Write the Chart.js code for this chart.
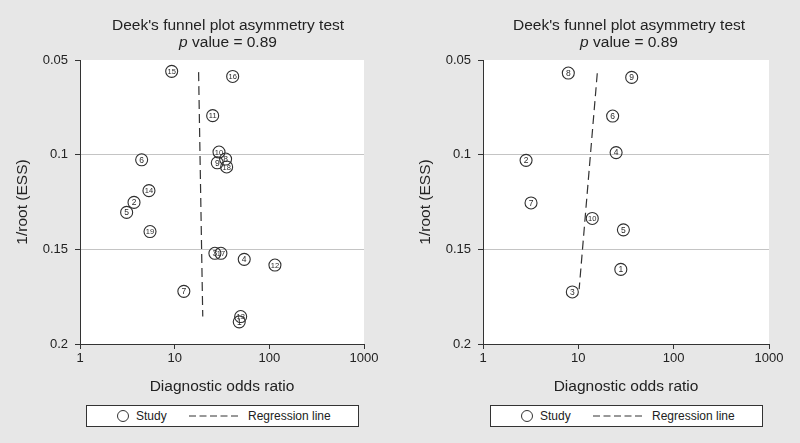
<!DOCTYPE html>
<html>
<head>
<meta charset="utf-8">
<script src="https://cdn.jsdelivr.net/npm/chart.js@4.4.0/dist/chart.umd.min.js"></script>
<style>
  html, body { margin: 0; padding: 0; background: #e7e7e7; }
  body { width: 800px; height: 443px; position: relative; overflow: hidden; font-family: "Liberation Sans", Arial, sans-serif; color: #222; }
  .panel { position: absolute; top: 0; width: 400px; height: 443px; }
  .panel canvas { position: absolute; left: 0; top: 0; }
  .title { position: absolute; top: 17px; transform: translateX(-50%); white-space: nowrap; text-align: center; font-size: 15.5px; line-height: 16.5px; }
  .legend { position: absolute; top: 405px; width: 271px; height: 20px; background: #fff; border: 1px solid #333; font-size: 12px; }
  .legend .circ { position: absolute; left: 30px; top: 4px; width: 10px; height: 10px; border: 1px solid #333; border-radius: 50%; box-sizing: content-box; }
  .legend .t1 { position: absolute; left: 49px; top: 3px; }
  .legend svg { position: absolute; left: 102px; top: 9px; }
  .legend .t2 { position: absolute; left: 161px; top: 3px; }
</style>
</head>
<body>
<div class="panel" style="left:0">
  <canvas id="c1" width="400" height="443"></canvas>
  <div class="title" style="left:228px">Deek's funnel plot asymmetry test<br><i>p</i> value = 0.89</div>
  <div class="legend" style="left:86px"><span class="circ"></span><span class="t1">Study</span><svg width="50" height="2"><line x1="0" y1="1" x2="50" y2="1" stroke="#333" stroke-width="1" stroke-dasharray="7,3.5"/></svg><span class="t2">Regression line</span></div>
</div>
<div class="panel" style="left:400px">
  <canvas id="c2" width="400" height="443"></canvas>
  <div class="title" style="left:229px">Deek's funnel plot asymmetry test<br><i>p</i> value = 0.89</div>
  <div class="legend" style="left:90px"><span class="circ"></span><span class="t1">Study</span><svg width="50" height="2"><line x1="0" y1="1" x2="50" y2="1" stroke="#333" stroke-width="1" stroke-dasharray="7,3.5"/></svg><span class="t2">Regression line</span></div>
</div>
<script>
// ---- Data ----
const xTicks = [1, 10, 100, 1000];
const yTicks = [0.05, 0.1, 0.15, 0.2];
const gridValues = [0.1, 0.15];

// Left panel
const studyLabelsA = ['15','16','11','10','8','9','18','6','14','2','5','19','3','17','4','12','7','13','1'];
const dorA = [9.3, 41, 25.2, 29.4, 34.5, 28.2, 35.4, 4.48, 5.35, 3.72, 3.11, 5.49, 26.6, 30.8, 54.3, 114.6, 12.5, 49.8, 48.1];
const essA = [0.056, 0.0587, 0.0794, 0.0986, 0.1023, 0.1043, 0.1065, 0.1027, 0.119, 0.1252, 0.1305, 0.1406, 0.1521, 0.1521, 0.1553, 0.1583, 0.1722, 0.1855, 0.1883];
const regXA = [17.9, 19.8];
const regYA = [0.0564, 0.1855];

// Right panel
const studyLabelsB = ['8','9','6','4','2','7','10','5','1','3'];
const dorB = [7.85, 36.3, 22.9, 24.9, 2.83, 3.19, 14.0, 29.7, 27.9, 8.65];
const essB = [0.0569, 0.0592, 0.0796, 0.0989, 0.1030, 0.1255, 0.1337, 0.1397, 0.1606, 0.1725];
const regXB = [15.8, 10.2];
const regYB = [0.057, 0.171];

// ---- Chart construction ----
const FONT = '"Liberation Sans", Arial, sans-serif';

const plotBg = {
  id: 'plotBg',
  beforeDraw(chart) {
    const a = chart.chartArea, ctx = chart.ctx;
    ctx.save();
    ctx.fillStyle = '#ffffff';
    ctx.fillRect(a.left, a.top, a.right - a.left, a.bottom - a.top);
    ctx.restore();
  }
};

const pointLabels = {
  id: 'pointLabels',
  afterDatasetsDraw(chart) {
    const ctx = chart.ctx;
    const meta = chart.getDatasetMeta(0);
    const labels = chart.data.datasets[0].studyLabels;
    ctx.save();
    ctx.fillStyle = '#2a2a2a';
    ctx.textAlign = 'center';
    ctx.textBaseline = 'middle';
    meta.data.forEach((el, i) => {
      const s = labels[i];
      ctx.font = (s.length > 1 ? '7.5px ' : '8.5px ') + FONT;
      ctx.fillText(s, el.x, el.y + 0.5);
    });
    ctx.restore();
  }
};

function makeChart(id, labels, dor, ess, regX, regY, yWidth, padRight, yTitlePad) {
  const pts = dor.map((d, i) => ({ x: d, y: ess[i] }));
  const reg = regX.map((d, i) => ({ x: d, y: regY[i] }));
  return new Chart(document.getElementById(id), {
    type: 'scatter',
    data: {
      datasets: [
        {
          label: 'Study',
          data: pts,
          studyLabels: labels,
          pointStyle: 'circle',
          pointRadius: 6,
          pointBackgroundColor: 'rgba(0,0,0,0)',
          pointBorderColor: '#2e2e2e',
          pointBorderWidth: 1.1,
          showLine: false
        },
        {
          label: 'Regression line',
          type: 'line',
          data: reg,
          showLine: true,
          pointRadius: 0,
          borderColor: '#333',
          borderWidth: 1.2,
          borderDash: [9, 5],
          fill: false
        }
      ]
    },
    options: {
      responsive: false,
      animation: false,
      events: [],
      layout: { padding: { top: 60, right: padRight, bottom: 39, left: 0 } },
      plugins: { legend: { display: false }, tooltip: { enabled: false }, title: { display: false } },
      scales: {
        x: {
          type: 'logarithmic',
          min: xTicks[0],
          max: xTicks[xTicks.length - 1],
          afterBuildTicks: s => { s.ticks = xTicks.map(v => ({ value: v })); },
          afterFit: s => { s.height = 60; },
          ticks: {
            callback: v => String(v),
            font: { family: FONT, size: 13 },
            color: '#222',
            padding: 2,
            maxRotation: 0,
            autoSkip: false
          },
          grid: { drawOnChartArea: false, drawTicks: true, tickLength: 5, tickColor: '#333' },
          border: { display: true, color: '#333', width: 1 },
          title: {
            display: true,
            text: 'Diagnostic odds ratio',
            font: { family: FONT, size: 15.5 },
            color: '#222',
            padding: { top: 0, bottom: 8 }
          }
        },
        y: {
          type: 'linear',
          reverse: true,
          min: yTicks[0],
          max: yTicks[yTicks.length - 1],
          afterBuildTicks: s => { s.ticks = yTicks.map(v => ({ value: v })); },
          afterFit: s => { s.width = yWidth; },
          ticks: {
            callback: v => String(+Number(v).toFixed(2)),
            font: { family: FONT, size: 13 },
            color: '#222',
            padding: 7,
            autoSkip: false
          },
          grid: {
            drawOnChartArea: true,
            drawTicks: true,
            tickLength: 5,
            tickColor: '#333',
            lineWidth: 1,
            color: ctx => (ctx.tick && gridValues.some(g => Math.abs(g - ctx.tick.value) < 1e-9)) ? '#c4c4c4' : 'rgba(0,0,0,0)'
          },
          border: { display: true, color: '#333', width: 1 },
          title: {
            display: true,
            text: '1/root (ESS)',
            font: { family: FONT, size: 15.5 },
            color: '#222',
            padding: { top: yTitlePad, bottom: 0 }
          }
        }
      }
    },
    plugins: [plotBg, pointLabels]
  });
}

makeChart('c1', studyLabelsA, dorA, essA, regXA, regYA, 80, 36, 13);
makeChart('c2', studyLabelsB, dorB, essB, regXB, regYB, 83, 31, 16);
</script>
</body>
</html>
